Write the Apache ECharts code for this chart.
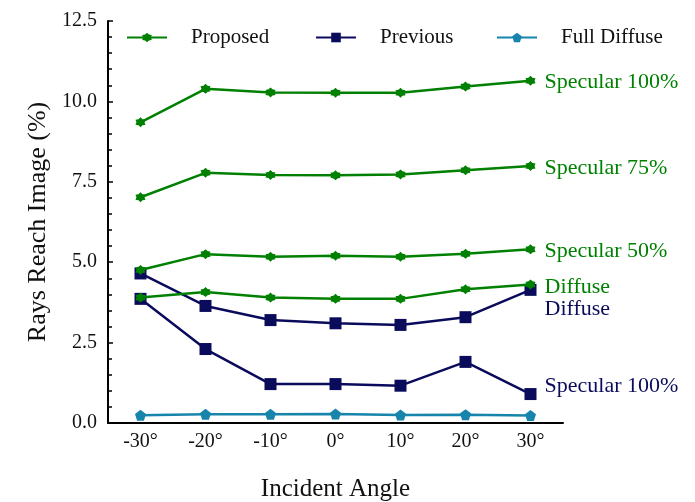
<!DOCTYPE html>
<html>
<head>
<meta charset="utf-8">
<script src="https://cdn.jsdelivr.net/npm/echarts@6/dist/echarts.min.js"></script>
<style>html,body{margin:0;padding:0;background:#fff}#c{width:695px;height:502px}</style>
</head>
<body>
<div id="c"></div>
<script>
const categories = ['-30°', '-20°', '-10°', '0°', '10°', '20°', '30°'];
const proposedSpec100 = [9.35, 10.39, 10.28, 10.27, 10.27, 10.46, 10.64];
const proposedSpec75 = [7.02, 7.78, 7.71, 7.70, 7.73, 7.86, 7.99];
const proposedSpec50 = [4.76, 5.25, 5.17, 5.20, 5.17, 5.26, 5.40];
const proposedDiffuse = [3.90, 4.07, 3.90, 3.86, 3.86, 4.16, 4.31];
const previousDiffuse = [4.65, 3.64, 3.20, 3.10, 3.05, 3.29, 4.14];
const previousSpec100 = [3.86, 2.30, 1.21, 1.21, 1.16, 1.90, 0.90];
const fullDiffuse = [0.24, 0.27, 0.27, 0.28, 0.25, 0.26, 0.23];
const yTicks = ['0.0', '2.5', '5.0', '7.5', '10.0', '12.5'];

const GREEN = '#008000', NAVY = '#0b0b5c', TEAL = '#1784ac';
const FONT = '"Liberation Serif", "Times New Roman", serif';
const STAR = 'path://M0,-1L0.35,-0.61L0.866,-0.5L0.7,0L0.866,0.5L0.35,0.61L0,1L-0.35,0.61L-0.866,0.5L-0.7,0L-0.866,-0.5L-0.35,-0.61Z';
const PENT = 'path://M0,-1L0.951,-0.309L0.588,0.809L-0.588,0.809L-0.951,-0.309Z';

function mk(name, data, color, symbol, size, label, off) {
  return {
    name: name, type: 'line', data: data, color: color,
    symbol: symbol, symbolSize: size, showAllSymbol: true,
    lineStyle: {width: 2.5, color: color},
    itemStyle: {color: color},
    emphasis: {disabled: true},
    endLabel: label ? {show: true, formatter: label, color: color, fontFamily: FONT, fontSize: 22, distance: 14, offset: off || [0, 2]} : {show: false},
    z: name === 'Proposed' ? 3 : 2
  };
}

const chart = echarts.init(document.getElementById('c'), null, {renderer: 'canvas'});
const legendBase = {top: 22, itemWidth: 40, itemHeight: 12, textStyle: {fontFamily: FONT, fontSize: 21, color: '#111', padding: [0, 0, 0, 19]}, selectedMode: false};
chart.setOption({
  animation: false,
  backgroundColor: '#fff',
  legend: [
    Object.assign({left: 121, data: ['Proposed']}, legendBase),
    Object.assign({left: 310, data: ['Previous']}, legendBase),
    Object.assign({left: 491, data: ['Full Diffuse']}, legendBase)
  ],
  grid: {left: 108, right: 132, top: 21, bottom: 79, containLabel: false, outerBoundsMode: 'none'},
  xAxis: {
    type: 'category', data: categories, boundaryGap: true,
    name: 'Incident Angle', nameLocation: 'middle', nameGap: 54,
    nameTextStyle: {fontFamily: FONT, fontSize: 25, color: '#111'},
    axisLine: {lineStyle: {color: '#000', width: 2}},
    axisTick: {show: false},
    axisLabel: {fontFamily: FONT, fontSize: 20, color: '#111', margin: 9}
  },
  yAxis: {
    type: 'value', min: 0, max: 12.5, interval: 2.5,
    name: 'Rays Reach Image (%)', nameLocation: 'middle', nameGap: 56,
    nameTextStyle: {fontFamily: FONT, fontSize: 26, color: '#111'},
    axisLine: {show: true, lineStyle: {color: '#000', width: 2}},
    axisTick: {show: true, inside: true, length: 5, lineStyle: {color: '#000', width: 1.5}},
    minorTick: {show: true, splitNumber: 5, length: 4, lineStyle: {color: '#000', width: 1.5}},
    splitLine: {show: false},
    axisLabel: {fontFamily: FONT, fontSize: 20, color: '#111', margin: 11,
      formatter: function (v) { return yTicks[Math.round(v / 2.5)]; }}
  },
  series: [
    mk('Previous', previousDiffuse, NAVY, 'rect', 12, 'Diffuse', [0, 19]),
    mk('Previous', previousSpec100, NAVY, 'rect', 12, 'Specular 100%', [0, -8]),
    mk('Full Diffuse', fullDiffuse, TEAL, PENT, 11, null),
    mk('Proposed', proposedSpec100, GREEN, STAR, [10, 10], 'Specular 100%', [0, 1]),
    mk('Proposed', proposedSpec75, GREEN, STAR, [10, 10], 'Specular 75%', [0, 2]),
    mk('Proposed', proposedSpec50, GREEN, STAR, [10, 10], 'Specular 50%', [0, 2]),
    mk('Proposed', proposedDiffuse, GREEN, STAR, [10, 10], 'Diffuse', [0, 3])
  ]
});
</script>
</body>
</html>
